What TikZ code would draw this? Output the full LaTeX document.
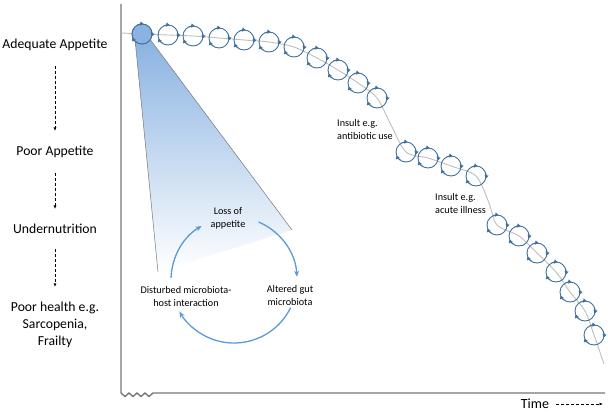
\documentclass[tikz,border=0pt]{standalone}
\usepackage{fontspec}
\setmainfont{Carlito}
\usetikzlibrary{positioning, arrows.meta, backgrounds}
\definecolor{ringblue}{RGB}{65,113,156}
\definecolor{cycblue}{RGB}{91,155,213}
\definecolor{coneblue}{RGB}{118,166,220}
\definecolor{axisgray}{RGB}{118,118,118}
\definecolor{trendgray}{RGB}{190,190,190}

\begin{document}
\begin{tikzpicture}[x=1pt, y=1pt,
     node distance = 3mm and 3mm,
        lab/.style = {font=\fontsize{13.7}{17}\selectfont, align=center, inner sep=0pt},
       note/.style = {font=\fontsize{10.2}{13}\selectfont, align=left, inner sep=0pt},
       ring/.style = {circle, draw=ringblue, line width=0.9pt, minimum size=20pt, inner sep=0pt},
       spin/.style = {ringblue, line width=0.9pt, -{Triangle[length=3.5pt,width=4pt]}},
       flow/.style = {cycblue, line width=1.3pt, -{Stealth[length=6pt,width=5pt]}},
       down/.style = {densely dashed, line width=0.7pt, -{Latex[length=3.5pt,width=3pt]}},
   axisline/.style = {draw=axisgray, line width=1.4pt}
                        ]
\useasboundingbox (0,0) rectangle (608,-412);
% appetite circles along the trajectory
\foreach \x/\y [count=\i] in {142/34, 168/35, 193/36, 219/38, 244/40, 269/42, 294/47,
    317/58, 338/70, 358/83, 377/98, 406/152, 428/158, 451/166, 476/176, 497/225,
    519/236, 537/253, 556/272, 570/292, 585/311, 594/335}
  \node[ring] (c\i) at (\x,-\y) {};
\node[ring, fill=coneblue!85] at (c1) {};
\foreach \i in {1,...,22} {
  \draw[spin] ([shift={(115:10pt)}]c\i.center) arc[start angle=115, end angle=80, radius=10pt];
  \draw[spin] ([shift={(20:10pt)}]c\i.center) arc[start angle=20, end angle=-15, radius=10pt];
  \draw[spin] ([shift={(235:10pt)}]c\i.center) arc[start angle=235, end angle=200, radius=10pt];
}
\coordinate (coneL) at (158,-272);
\coordinate (coneR) at (292,-230);
\begin{scope}[on background layer]
\shade[top color=coneblue!85, middle color=coneblue!6, bottom color=white]
  (c1.230) -- (coneL) -- (coneR) -- (c1.-35) -- cycle;
\draw[trendgray, line width=0.9pt] plot[smooth, tension=0.5] coordinates {(122,-33)
  (c1.center) (c2.center) (c3.center) (c4.center) (c5.center) (c6.center) (c7.center)
  (c8.center) (c9.center) (c10.center) (c11.center) (391,-125) (c12.center) (c13.center)
  (c14.center) (c15.center) (489,-203) (c16.center) (c17.center) (c18.center)
  (c19.center) (c20.center) (c21.center) (c22.center) (604,-364)};
\end{scope}
\draw[axisgray, line width=0.5pt] (c1.230) -- (coneL);
\draw[axisgray, line width=0.5pt] (c1.-35) -- (coneR);
% axes
\draw[axisline] (121,-4) -- (121,-393) -- ++(4,-3.5) -- ++(4,3.5) -- ++(4,-3.5) -- ++(4,3.5)
  -- ++(4,-3.5) -- ++(4,3.5) -- ++(4,-3.5) -- ++(4,3.5) -- (605,-393);
\node[font=\fontsize{14}{17}\selectfont, inner sep=0pt] (time) at (535,-404) {Time};
\coordinate (timeend) at (603,-404);
\draw[down] ([xshift=7pt]time.east) -- (timeend);
% stages on the left
\node[lab] (adequate) at (55,-45) {Adequate Appetite};
\node[lab] (poorapp) at (55,-152) {Poor Appetite};
\node[lab] (undernut) at (55,-229) {Undernutrition};
\node[lab] (poorhealth) at (55,-325) {Poor health e.g.\\Sarcopenia,\\Frailty};
\draw[down, shorten <=15pt, shorten >=15pt] (adequate) -- (poorapp);
\draw[down, shorten <=15pt, shorten >=15pt] (poorapp) -- (undernut);
\draw[down, shorten <=15pt, shorten >=15pt] (undernut) -- (poorhealth);
% insults
\node[note, anchor=west] (abx) at (337,-129) {Insult e.g.\\antibiotic use};
\node[note, anchor=west] (acute) at (435,-203) {Insult e.g.\\acute illness};
% vicious cycle
\coordinate (cyc) at (234,-280);
\node[note, align=center] (loss) at (228,-218) {Loss of\\appetite};
\node[note, align=center] (disturbed) at (186,-296) {Disturbed microbiota-\\host interaction};
\node[note, align=center] (altered) at (290,-295) {Altered gut\\microbiota};
\draw[flow] ([shift={(67:63pt)}]cyc) arc[start angle=67, end angle=3, radius=63pt];
\draw[flow] ([shift={(-26:63pt)}]cyc) arc[start angle=-26, end angle=-150, radius=63pt];
\draw[flow] ([shift={(178:63pt)}]cyc) arc[start angle=178, end angle=121, radius=63pt];
\end{tikzpicture}
\end{document}
